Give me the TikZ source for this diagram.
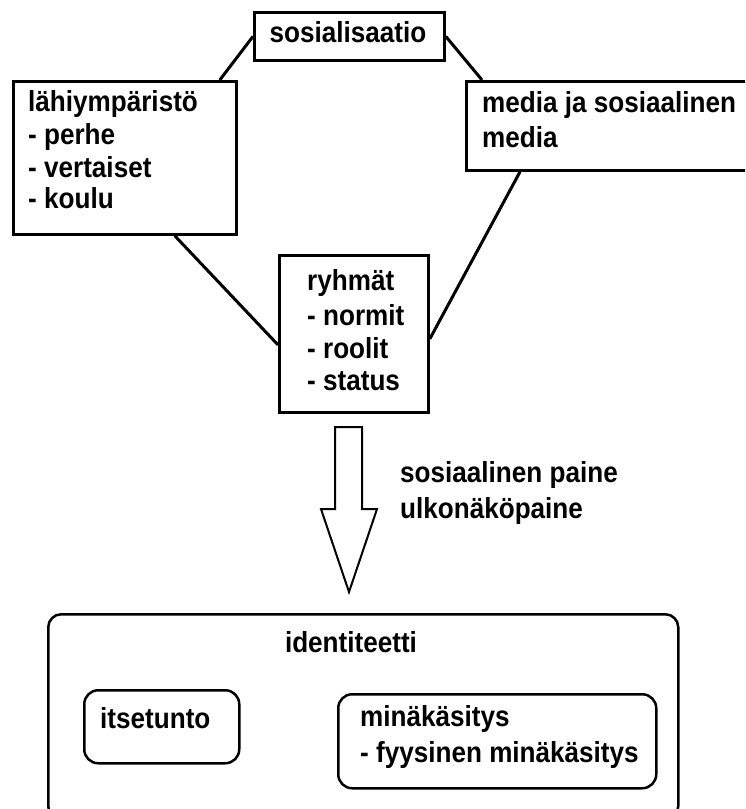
\documentclass[tikz,border=0pt]{standalone}
\usepackage{fontspec}
\newfontfamily\lbl{Liberation Sans}[FakeStretch=0.9]
\usetikzlibrary{calc}
\begin{document}
\begin{tikzpicture}[x=1pt,y=-1pt,
  box/.style={draw, line width=2.8pt, inner sep=0pt, anchor=north west},
  rbox/.style={draw, line width=2.5pt, rounded corners=14pt, inner sep=0pt, anchor=north west},
  txt/.style={anchor=base west, inner sep=0pt, font=\lbl\bfseries\fontsize{29}{33}\selectfont},
  link/.style={line width=3pt},
  bigarrow/.style={draw, line width=2pt, line join=miter}]
\useasboundingbox (0,0) rectangle (745,809);
\fill[white] (0,0) rectangle (745,809);
\clip (0,0) rectangle (745,809);
% boxes
\node[box, minimum width=190, minimum height=48] (soc) at (253,11) {};
\node[box, minimum width=223, minimum height=153] (lah) at (12,80) {};
\node[box, minimum width=300, minimum height=89] (media) at (465,80) {};
\node[box, minimum width=149, minimum height=157] (ryh) at (278,254) {};
\node[rbox, rounded corners=13pt, minimum width=630, minimum height=205] (ident) at (47,613) {};
\node[rbox, minimum width=155, minimum height=73] (its) at (83,689) {};
\node[rbox, minimum width=318, minimum height=94] (mina) at (337,693) {};
% texts
\node[txt, anchor=base] (socT) at (348,42) {sosialisaatio};
\node[txt] (lah1) at (28,111) {lähiympäristö};
\node[txt] (lah2) at (28,144) {- perhe};
\node[txt] (lah3) at (28,177) {- vertaiset};
\node[txt] (lah4) at (28,208) {- koulu};
\node[txt] (med1) at (482,112) {media ja sosiaalinen};
\node[txt] (med2) at (482,147) {media};
\node[txt] (ryh1) at (307,290) {ryhmät};
\node[txt] (ryh2) at (307,325) {- normit};
\node[txt] (ryh3) at (307,358) {- roolit};
\node[txt] (ryh4) at (307,390) {- status};
\node[txt] (pr1) at (400,482) {sosiaalinen paine};
\node[txt] (pr2) at (400,518) {ulkonäköpaine};
\node[txt, anchor=base] (idT) at (351,652) {identiteetti};
\node[txt] (itsT) at (100,728) {itsetunto};
\node[txt] (min1) at (360,726) {minäkäsitys};
\node[txt] (min2) at (360,762) {- fyysinen minäkäsitys};
% connectors
\draw[link] (soc.west) -- ($(lah.north east)+(-18,0)$);
\draw[link] (soc.east) -- ($(media.north west)+(17,0)$);
\draw[link] ($(lah.south east)+(-63,0)$) -- ($(ryh.west)+(0,11)$);
\draw[link] ($(media.south west)+(55,0)$) -- ($(ryh.east)+(0,5)$);
% big arrow
\draw[bigarrow] (335,427) -- (362,427) -- (362,509) -- (377,509) -- (349,592) -- (321,509) -- (335,509) -- cycle;
\end{tikzpicture}
\end{document}
